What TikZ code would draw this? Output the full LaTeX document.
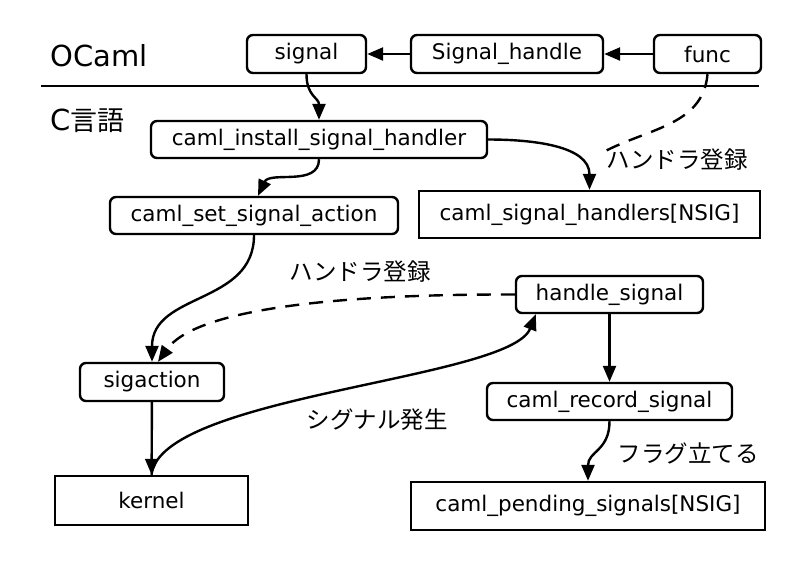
\documentclass[tikz,border=0pt]{standalone}
\usepackage{fontspec}
\setmainfont{DejaVu Sans}
\newfontfamily\jp{Noto Sans CJK JP}
\usetikzlibrary{arrows.meta,calc}
\begin{document}
\begin{tikzpicture}[x=1pt,y=-1pt,
  rbox/.style={draw,line width=2.4pt,rounded corners=6pt,inner sep=0pt,font=\fontsize{21.5}{21.5}\selectfont},
  sbox/.style={draw,line width=2.4pt,inner sep=0pt,font=\fontsize{21.5}{21.5}\selectfont},
  arr/.style={line width=2.4pt,-{Triangle[length=16pt,width=13pt]}},
  darr/.style={line width=2.4pt,dash pattern=on 14pt off 10pt},
  lbl/.style={font=\jp\fontsize{23.5}{23.5}\selectfont,inner sep=0pt},
  big/.style={font=\fontsize{29}{29}\selectfont,anchor=west,inner sep=0pt}]
\useasboundingbox (0,0) rectangle (800,566);
% nodes
\node[rbox,minimum width=119pt,minimum height=38pt] (signal) at (306.5,54) {signal};
\node[rbox,minimum width=192pt,minimum height=38pt] (sh) at (507,54) {Signal\_handle};
\node[rbox,minimum width=107pt,minimum height=38pt] (func) at (707.5,54) {func};
\node[big] (ocaml) at (50,56) {OCaml};
\node[big] (clang) at (50,121) {C{\jp\fontsize{27}{27}\selectfont 言語}};
\coordinate (l1) at (41,86);
\coordinate (l2) at (759,86);
\draw[line width=2.4pt] (l1) -- (l2);
\node[rbox,minimum width=336pt,minimum height=37pt] (install) at (319,139.5) {caml\_install\_signal\_handler};
\node[rbox,minimum width=288pt,minimum height=37pt] (setact) at (254,215.5) {caml\_set\_signal\_action};
\node[sbox,minimum width=341pt,minimum height=47pt] (handlers) at (589.5,214.5) {caml\_signal\_handlers[NSIG]};
\node[rbox,minimum width=187pt,minimum height=37pt] (hs) at (609.5,294.5) {handle\_signal};
\node[rbox,minimum width=144pt,minimum height=38pt] (sigaction) at (152,382) {sigaction};
\node[rbox,minimum width=245pt,minimum height=37pt] (record) at (609.5,401.5) {caml\_record\_signal};
\node[sbox,minimum width=193pt,minimum height=49pt] (kernel) at (151.5,500.5) {kernel};
\node[sbox,minimum width=354pt,minimum height=48pt] (pending) at (588,506) {caml\_pending\_signals[NSIG]};
% labels
\node[lbl] (reg1) at (677,160) {ハンドラ登録};
\node[lbl] (reg2) at (360,272) {ハンドラ登録};
\node[lbl] (occur) at (377,420) {シグナル発生};
\node[lbl] (flag) at (688,453) {フラグ立てる};
% connectors
\draw[arr] (sh) -- (signal);
\draw[arr] (func) -- (sh);
\draw[arr] (signal.south) to[out=-90,in=90,looseness=1.2] (install.north);
\draw[arr] (install.south) to[out=-90,in=65,looseness=1.0] ($(setact.north)+(4,0)$);
\draw[arr] (setact.south) to[out=-90,in=90,looseness=1.1] (sigaction.north);
\draw[arr] (sigaction) -- (kernel);
\draw[arr] (install.east) to[out=0,in=90,looseness=1.0] (handlers.north);
\coordinate (dend) at (598,155);
\draw[darr] (func.south) to[out=-95,in=30,looseness=1.0] (dend);
\draw[darr,-{Triangle[length=16pt,width=13pt]}] (hs.west) .. controls (330,294) and (195,310) .. ($(sigaction.north)+(6,0)$);
\draw[arr] (kernel.north) .. controls (160,395) and (510,380) .. ($(hs.south west)+(21,0)$);
\draw[arr] (hs) -- (record);
\draw[arr] (record.south) to[out=-90,in=90,looseness=1.2] (pending.north);
\end{tikzpicture}
\end{document}
